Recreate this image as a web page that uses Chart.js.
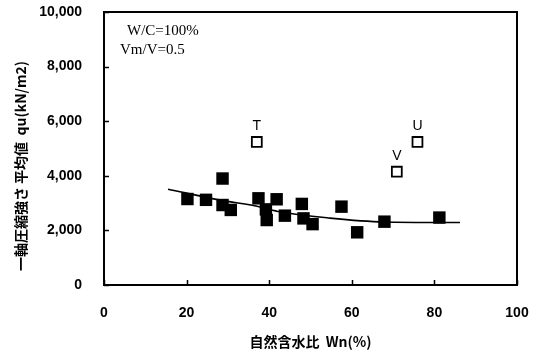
<!DOCTYPE html>
<html>
<head>
<meta charset="utf-8">
<script src="https://cdn.jsdelivr.net/npm/chart.js@4/dist/chart.umd.min.js"></script>
<style>
  body { margin: 0; background: #fff; }
  #wrap { width: 541px; height: 352px; }
</style>
</head>
<body>
<div id="wrap"><canvas id="chart" width="541" height="352"></canvas></div>
<script>
// measured points (filled squares)
var wn = [20.2, 24.7, 28.7, 28.7, 30.7, 37.4, 39.2, 39.4, 41.8, 43.8, 47.9, 48.3, 50.5, 57.5, 61.3, 67.9, 81.2];
var qu = [3150, 3120, 3900, 2930, 2750, 3175, 2770, 2380, 3140, 2540, 2970, 2440, 2230, 2870, 1930, 2320, 2470];

// open squares with letters
var openLabels = ['T', 'U', 'V'];
var openWn = [37.0, 75.9, 70.9];
var openQu = [5240, 5240, 4150];

// trend curve
var trendWn = [15.5, 28.1, 37.8, 42.6, 54.7, 67.8, 86.2];
var trendQu = [3510, 3110, 2860, 2680, 2450, 2310, 2290];

var xTicks = [0, 20, 40, 60, 80, 100];
var yTicks = [0, 2000, 4000, 6000, 8000, 10000];

var noteLines = ['W/C=100%', 'Vm/V=0.5'];
var xTitle = '自然含水比  Wn(%)';
var yTitle = '一軸圧縮強さ 平均値  qu(kN/m2)';

function toPoints(xs, ys) {
  var pts = [];
  for (var i = 0; i < xs.length; i++) {
    pts.push({ x: xs[i], y: ys[i] });
  }
  return pts;
}

var extras = {
  id: 'extras',
  afterDraw: function (chart) {
    var ctx = chart.ctx;
    var area = chart.chartArea;
    var xs = chart.scales.x;
    var ys = chart.scales.y;

    ctx.save();
    ctx.strokeStyle = '#000';
    ctx.lineWidth = 2;
    ctx.strokeRect(area.left, area.top, area.right - area.left, area.bottom - area.top);

    // inward tick marks
    ctx.lineWidth = 1.5;
    ctx.beginPath();
    yTicks.forEach(function (v) {
      var py = Math.round(ys.getPixelForValue(v)) + 0.5;
      ctx.moveTo(area.left, py);
      ctx.lineTo(area.left + 5, py);
    });
    xTicks.forEach(function (v) {
      var px = Math.round(xs.getPixelForValue(v)) + 0.5;
      ctx.moveTo(px, area.bottom);
      ctx.lineTo(px, area.bottom - 5);
    });
    ctx.stroke();

    // letters over the open squares
    ctx.fillStyle = '#000';
    ctx.font = '14px "Liberation Sans", Arial, sans-serif';
    ctx.textAlign = 'center';
    ctx.textBaseline = 'middle';
    for (var i = 0; i < openLabels.length; i++) {
      ctx.fillText(openLabels[i], xs.getPixelForValue(openWn[i]), ys.getPixelForValue(openQu[i]) - 16);
    }

    // condition note
    ctx.font = '15px "Liberation Serif", "Times New Roman", serif';
    ctx.textAlign = 'left';
    ctx.fillText(noteLines[0], area.left + 23, area.top + 19);
    ctx.fillText(noteLines[1], area.left + 16, area.top + 38);

    // y axis title
    ctx.font = 'bold 14px "Noto Sans CJK JP", sans-serif';
    ctx.textAlign = 'center';
    ctx.translate(21, 166);
    ctx.rotate(-Math.PI / 2);
    ctx.fillText(yTitle, 0, 0);
    ctx.restore();
  }
};

new Chart(document.getElementById('chart'), {
  type: 'scatter',
  data: {
    datasets: [{
      data: toPoints(trendWn, trendQu),
      showLine: true,
      borderColor: '#000',
      borderWidth: 1.6,
      pointRadius: 0,
      tension: 0.4,
      cubicInterpolationMode: 'monotone'
    }, {
      data: toPoints(wn, qu),
      pointStyle: 'rect',
      pointRadius: 8.8,
      backgroundColor: '#000',
      borderWidth: 0
    }, {
      data: toPoints(openWn, openQu),
      pointStyle: 'rect',
      pointRadius: 7,
      backgroundColor: '#fff',
      borderColor: '#000',
      borderWidth: 1.8
    }]
  },
  options: {
    responsive: false,
    animation: false,
    devicePixelRatio: 1,
    layout: { padding: { top: 12, right: 24, left: 0, bottom: 0 } },
    plugins: {
      legend: { display: false },
      tooltip: { enabled: false }
    },
    scales: {
      x: {
        type: 'linear',
        min: 0,
        max: 100,
        afterBuildTicks: function (s) { s.ticks = xTicks.map(function (v) { return { value: v }; }); },
        afterFit: function (s) { s.height = 67; s.paddingRight = 0; s.paddingLeft = 0; },
        grid: { display: false },
        border: { display: false },
        ticks: { color: '#000', padding: 12, font: { family: 'Arial, "Liberation Sans", sans-serif', size: 14, weight: 'bold' } },
        title: {
          display: true,
          text: xTitle,
          color: '#000',
          padding: { top: 0, bottom: 2 },
          font: { family: '"Noto Sans CJK JP", sans-serif', size: 14, weight: 'bold' }
        }
      },
      y: {
        min: 0,
        max: 10000,
        afterBuildTicks: function (s) { s.ticks = yTicks.map(function (v) { return { value: v }; }); },
        afterFit: function (s) { s.width = 104; s.paddingTop = 0; s.paddingBottom = 0; },
        grid: { display: false },
        border: { display: false },
        ticks: { color: '#000', padding: 14, font: { family: 'Arial, "Liberation Sans", sans-serif', size: 14, weight: 'bold' } }
      }
    }
  },
  plugins: [extras]
});
</script>
</body>
</html>
